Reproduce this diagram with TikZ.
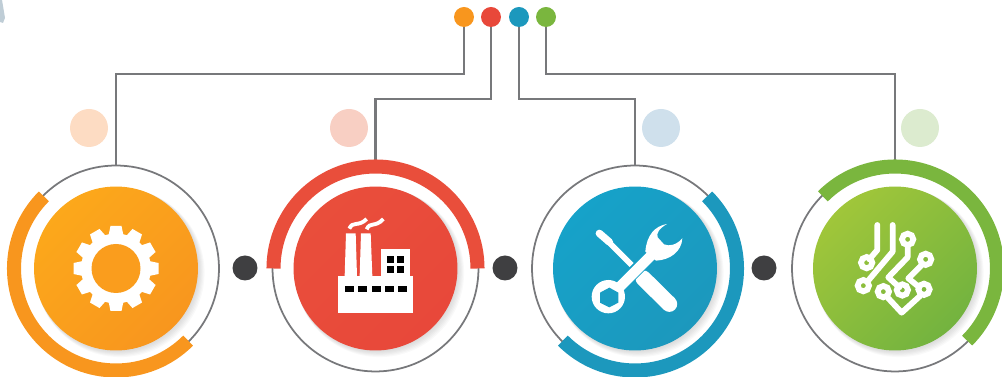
\documentclass[tikz,border=0pt]{standalone}
\definecolor{wiregray}{HTML}{77787B}
\definecolor{dotgray}{HTML}{3F3F41}
\definecolor{orangeA}{HTML}{FCA81B}
\definecolor{orangeB}{HTML}{F8961E}
\definecolor{redA}{HTML}{E94E3B}
\definecolor{redB}{HTML}{E8483A}
\definecolor{blueA}{HTML}{16A2C9}
\definecolor{blueB}{HTML}{1C98BD}
\definecolor{greenA}{HTML}{A0C63A}
\definecolor{greenB}{HTML}{73B33F}
\definecolor{paleorange}{HTML}{FDDCC3}
\definecolor{palered}{HTML}{F8CFC3}
\definecolor{paleblue}{HTML}{CFE0EC}
\definecolor{palegreen}{HTML}{DCEBCF}
\tikzset{
  disc/.style={circle,minimum size=3.28cm,inner sep=0pt,outer sep=0pt},
  slant/.style={shading angle=45},
  ring/.style={circle,draw=wiregray,line width=1pt,minimum size=4.12cm,inner sep=0pt,outer sep=0pt},
  band/.style={line width=8pt},
  wire/.style={draw=wiregray,line width=1.3pt},
  topdot/.style={circle,minimum size=.4cm,inner sep=0pt,outer sep=0pt},
  palespot/.style={circle,minimum size=.76cm,inner sep=0pt},
  gapdot/.style={circle,fill=dotgray,minimum size=.5cm,inner sep=0pt},
  trace/.style={draw=white,line width=3.3pt,line join=round,line cap=round},
  pad/.style={draw=white,line width=3.3pt},
}
\begin{document}
\begin{tikzpicture}[x=.02cm,y=-.02cm]
\useasboundingbox (0,0) rectangle (1002,377);
\fill[paleblue!80!gray] (0,0)--(2,0)--(5,18)--(3,23)--(0,22)--cycle;
% pale spots
\node[palespot,fill=paleorange] (spota) at (89,128) {};
\node[palespot,fill=palered] (spotb) at (349,128) {};
\node[palespot,fill=paleblue] (spotc) at (661,128) {};
\node[palespot,fill=palegreen] (spotd) at (920,128) {};
% rings
\node[ring] (ringa) at (116,268.5) {};
\node[ring] (ringb) at (375.5,268.5) {};
\node[ring] (ringc) at (635,268.5) {};
\node[ring] (ringd) at (895,268.5) {};
% dots along the top
\coordinate (benda) at (116,74);
\coordinate (bendb) at (375.5,99);
\coordinate (bendc) at (635,99);
\coordinate (bendd) at (895,74);
\node[topdot,fill=orangeB] (topa) at (464,17) {};
\node[topdot,fill=redB] (topb) at (491,17) {};
\node[topdot,fill=blueB] (topc) at (519,17) {};
\node[topdot,fill=greenB!85!greenA] (topd) at (546,17) {};
\draw[wire] (topa) |- (benda) -- (ringa.north);
\draw[wire] (topb) |- (bendb) -- (ringb.north);
\draw[wire] (topc) |- (bendc) -- (ringc.north);
\draw[wire] (topd) |- (bendd) -- (ringd.north);
% thick arcs
\draw[band,draw=orangeB] (ringa)++(225:102) arc (225:45:102);
\draw[band,draw=redA] (ringb)++(180:102) arc (180:360:102);
\draw[band,draw=blueB] (ringc)++(-45:102) arc (-45:135:102);
\draw[band,draw=greenB!85!greenA] (ringd)++(225:102) arc (225:405:102);
% soft shadows
\foreach \c in {116,375.5,635,895}{
  \foreach \s in {1,2,...,6}
    \fill[black,opacity=.025] (\c+\s*.7,268.5+\s*.7) circle (82+\s*.4);
}
% discs
\node[disc,left color=orangeA,right color=orangeB,slant] (gear) at (116,268.5) {};
\node[disc,left color=redA,right color=redB,slant] (works) at (375.5,268.5) {};
\node[disc,left color=blueA,right color=blueB,slant] (tools) at (635,268.5) {};
\node[disc,left color=greenA,right color=greenB,slant] (chip) at (895,268.5) {};
\node[gapdot] (gapa) at (245,268) {};
\node[gapdot] (gapb) at (505,268) {};
\node[gapdot] (gapc) at (764,268) {};
% gear
\fill[white] (gear) circle (35);
\foreach \a in {0,30,...,330}
  \fill[white,rotate around={\a:(gear)}] (110.5,226) -- (121.5,226) -- (124,238) -- (108,238) -- cycle;
\fill[orangeB!60!orangeA] (gear) circle (24.5);
% factory
\begin{scope}[shift={(260,150)},scale=1/3]
\fill[white] (233,378) rectangle (460,490);
\fill[white] (363,297) rectangle (450,378);
\fill[white] (258,250) -- (287,250) -- (291,378) -- (254,378) -- cycle;
\fill[white] (303,250) -- (332,250) -- (337,378) -- (299,378) -- cycle;
\foreach \x in {255,295,335,375,415}
  \fill[black] (\x,408) rectangle ++(27,17);
\foreach \x in {382,412}{
  \fill[black] (\x,318) rectangle ++(21,20);
  \fill[black] (\x,348) rectangle ++(21,20);
}
\draw[white,line width=2.2pt] (268,236) .. controls (278,212) and (295,232) .. (320,207);
\draw[white,line width=2.2pt] (320,238) .. controls (330,214) and (345,234) .. (370,207);
\end{scope}
% screwdriver and wrench
\begin{scope}[shift={(520,150)},scale=1/3]
\draw[white,line width=4.2pt,line cap=round] (238,250) -- (268,276);
\draw[white,line width=3.2pt] (255,265) -- (335,345);
\draw[white,line width=9pt,line cap=round] (370,385) -- (448,462);
\draw[blueA,line width=6.8pt] (270,440) -- (385,325);
\draw[white,line width=5.8pt] (270,440) -- (395,315);
\fill[white] (376,305) .. controls (380,255) and (405,228) .. (441,222)
  .. controls (418,235) and (408,250) .. (413,262) -- (432,283)
  .. controls (447,290) and (470,285) .. (487,265)
  .. controls (485,305) and (450,330) .. (408,332) -- cycle;
\fill[white] (265,440) circle (50);
\fill[blueA!50!blueB] (268,413) -- (295,428) -- (295,458) -- (268,472) -- (240,458) -- (240,428) -- cycle;
\end{scope}
% circuit
\begin{scope}[shift={(780,150)},scale=1/3]
\draw[trace] (292,225) -- (292,300) -- (268,328);
\draw[trace] (338,225) -- (338,305) -- (262,395);
\draw[trace] (383,285) -- (383,322) -- (325,382) -- (358,412);
\draw[trace] (425,345) -- (385,385) -- (418,412);
\draw[trace] (325,445) -- (365,488) -- (420,438);
\draw[pad] (260,338) circle (17);
\draw[pad] (250,407) circle (17);
\draw[pad] (383,268) circle (17);
\draw[pad] (437,328) circle (17);
\draw[pad] (310,425) circle (17);
\draw[pad] (367,420) circle (17);
\draw[pad] (432,418) circle (17);
\end{scope}
\end{tikzpicture}
\end{document}
